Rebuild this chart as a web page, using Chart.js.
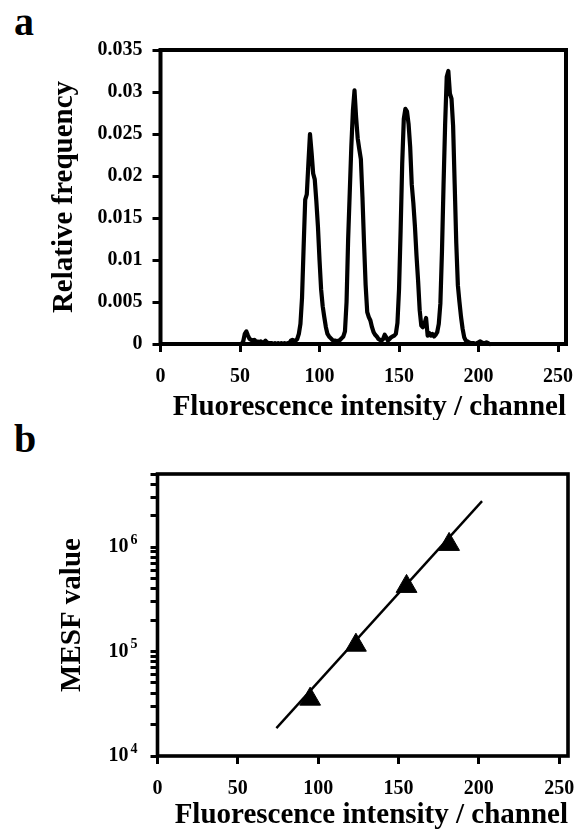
<!DOCTYPE html>
<html>
<head>
<meta charset="utf-8">
<script src="https://cdn.jsdelivr.net/npm/chart.js@4.4.1/dist/chart.umd.min.js"></script>
<style>
html,body{margin:0;padding:0;background:#fff;}
body{width:581px;height:832px;position:relative;overflow:hidden;font-family:"Liberation Serif","Times New Roman",serif;}
.panel{position:absolute;left:14px;font-weight:bold;font-size:40px;line-height:40px;color:#000;}
#wa{position:absolute;left:0;top:0;width:581px;height:420px;}
#wb{position:absolute;left:0;top:420px;width:581px;height:412px;}
</style>
</head>
<body>
<div class="panel" style="top:2px">a</div>
<div class="panel" style="top:419px">b</div>
<div id="wa"><canvas id="ca" width="581" height="420"></canvas></div>
<div id="wb"><canvas id="cb" width="581" height="412"></canvas></div>
<script>
// ---------- Panel a: histogram ----------
const channels = [
  50,51,52,53,54,55,56,57,58,59,
  60,61,62,63,64,65,66,67,68,69,
  70,71,72,73,74,75,76,77,78,79,
  80,81,82,83,84,85,86,87,88,89,
  90,91,92,93,94,95,96,97,98,99,
  100,101,102,103,104,105,106,107,108,109,
  110,111,112,113,114,115,116,117,118,119,
  120,121,122,123,124,125,126,127,128,129,
  130,131,132,133,134,135,136,137,138,139,
  140,141,142,143,144,145,146,147,148,149,
  150,151,152,153,154,155,156,157,158,159,
  160,161,162,163,164,165,166,167,168,169,
  170,171,172,173,174,175,176,177,178,179,
  180,181,182,183,184,185,186,187,188,189,
  190,191,192,193,194,195,196,197,198,199,
  200,201,202,203,204,205,206,207
];
const frequency = [
  0,0,0.0003,0.0012,0.0015,0.0010,0.0006,0.0005,0.0004,0.0005,
  0.0003,0.0003,0.0002,0.0003,0.0002,0.0002,0.0004,0.0002,0.0001,0.0001,
  0.0001,0,0.0001,0,0.0001,0,0.0001,0,0.0001,0,
  0.0001,0.0001,0.0004,0.0005,0.0004,0.0004,0.0006,0.0012,0.0024,0.0055,
  0.0115,0.0172,0.0178,0.0215,0.0250,0.0228,0.0203,0.0196,0.0170,0.0140,
  0.0100,0.0065,0.0045,0.0032,0.0020,0.0012,0.0009,0.0007,0.0005,0.0004,
  0.0004,0.0003,0.0004,0.0005,0.0007,0.0009,0.0015,0.0050,0.0125,0.0180,
  0.0235,0.0278,0.0302,0.0270,0.0245,0.0232,0.0220,0.0175,0.0120,0.0070,
  0.0038,0.0032,0.0028,0.0020,0.0014,0.0011,0.0009,0.0006,0.0005,0.0004,
  0.0006,0.0011,0.0008,0.0004,0.0006,0.0008,0.0009,0.0010,0.0012,0.0025,
  0.0065,0.0135,0.0215,0.0268,0.0280,0.0277,0.0262,0.0235,0.0190,0.0168,
  0.0140,0.0105,0.0075,0.0040,0.0022,0.0020,0.0024,0.0031,0.0010,0.0013,
  0.0010,0.0012,0.0009,0.0011,0.0014,0.0024,0.0048,0.0110,0.0190,0.0262,
  0.0318,0.0325,0.0298,0.0292,0.0260,0.0190,0.0120,0.0070,0.0050,0.0032,
  0.0018,0.0008,0.0004,0.0003,0.0002,0.0001,0.0001,0.0001,0,0.0001,
  0.0002,0.0003,0.0002,0.0001,0.0001,0.0002,0.0001,0
];
const xTicks = [0, 50, 100, 150, 200, 250];
const xTickLabels = ["0", "50", "100", "150", "200", "250"];
const yTicksA = [0, 0.005, 0.01, 0.015, 0.02, 0.025, 0.03, 0.035];
const yTickLabelsA = ["0", "0.005", "0.01", "0.015", "0.02", "0.025", "0.03", "0.035"];

// ---------- Panel b: calibration ----------
const mesfChannel = [95, 123.5, 155, 181.5];
const mesfValue = [35000, 115000, 420000, 1060000];
const fitChannel = [74, 202];
const fitValue = [18500, 2750000];
const yTicksB = [1e4,2e4,3e4,4e4,5e4,6e4,7e4,8e4,9e4,1e5,2e5,3e5,4e5,5e5,6e5,7e5,8e5,9e5,1e6,2e6,3e6,4e6,5e6];
const yMajorB = [1e4, 1e5, 1e6];
const yMajorBase = ["10", "10", "10"];
const yMajorExp = ["4", "5", "6"];

const xTitle = "Fluorescence intensity / channel";
const FONT = "'Liberation Serif', 'Times New Roman', serif";

const framePlugin = {
  id: 'frame',
  afterDatasetsDraw(chart, args, opts) {
    const {ctx, chartArea: a} = chart;
    ctx.save();
    ctx.strokeStyle = '#000';
    ctx.lineWidth = opts.width || 4;
    ctx.strokeRect(a.left, a.top, a.right - a.left, a.bottom - a.top);
    ctx.restore();
  }
};

// draws the exponent of the power-of-ten labels as real superscript text
const exponentPlugin = {
  id: 'exponents',
  afterDraw(chart) {
    const s = chart.scales.y;
    if (!s || s.type !== 'logarithmic') return;
    const ctx = chart.ctx;
    ctx.save();
    ctx.fillStyle = '#000';
    ctx.font = "bold 14px " + FONT;
    ctx.textAlign = 'left';
    ctx.textBaseline = 'middle';
    yMajorB.forEach((v, i) => {
      const py = s.getPixelForValue(v);
      ctx.fillText(yMajorExp[i], chart.chartArea.left - 27, py - 7);
    });
    ctx.restore();
  }
};

function xScale(maxV, titlePad, labelPad) {
  return {
    type: 'linear', min: 0, max: maxV,
    afterBuildTicks: s => { s.ticks = xTicks.map(v => ({value: v})); },
    afterFit: s => { s.height = 76; s.paddingLeft = 0; s.paddingRight = 0; },
    border: {display: false},
    grid: {display: true, drawOnChartArea: false, drawTicks: true, tickLength: 8, tickWidth: 3, tickColor: '#000'},
    ticks: {autoSkip: false, maxRotation: 0, color: '#000', padding: labelPad,
      font: {family: FONT, size: 20, weight: 'bold'},
      callback: v => { const i = xTicks.indexOf(v); return i >= 0 ? xTickLabels[i] : ''; }},
    title: {display: true, text: xTitle, align: 'end', color: '#000',
      font: {family: FONT, size: 29, weight: 'bold', lineHeight: 1},
      padding: {top: 0, bottom: titlePad}}
  };
}

Chart.defaults.animation = false;

new Chart(document.getElementById('ca'), {
  type: 'scatter',
  data: {
    datasets: [{
      data: channels.map((c, i) => ({x: c, y: frequency[i]})),
      showLine: true, borderColor: '#000', borderWidth: 4.2, pointRadius: 0,
      tension: 0, borderJoinStyle: 'round', borderCapStyle: 'round', clip: false
    }]
  },
  options: {
    responsive: false, animation: false,
    layout: {padding: {left: 0, top: 50, right: 15, bottom: 0}},
    plugins: {legend: {display: false}, tooltip: {enabled: false}, frame: {width: 4}},
    scales: {
      x: xScale(255, -2, 13),
      y: {
        type: 'linear', min: 0, max: 0.035,
        afterBuildTicks: s => { s.ticks = yTicksA.map(v => ({value: v})); },
        afterFit: s => { s.width = 160.5; s.paddingTop = 0; s.paddingBottom = 0; },
        border: {display: false},
        grid: {display: true, drawOnChartArea: false, drawTicks: true, tickLength: 8, tickWidth: 3, tickColor: '#000'},
        ticks: {autoSkip: false, color: '#000', padding: 10,
          font: {family: FONT, size: 20, weight: 'bold'},
          callback: v => { const i = yTicksA.findIndex(t => Math.abs(t - v) < 1e-9); return i >= 0 ? yTickLabelsA[i] : ''; }},
        title: {display: true, text: 'Relative frequency', color: '#000',
          font: {family: FONT, size: 29, weight: 'bold', lineHeight: 1},
          padding: {top: 50, bottom: 0}}
      }
    }
  },
  plugins: [framePlugin]
});

new Chart(document.getElementById('cb'), {
  type: 'scatter',
  data: {
    datasets: [
      {
        data: fitChannel.map((c, i) => ({x: c, y: fitValue[i]})),
        showLine: true, borderColor: '#000', borderWidth: 2.4, pointRadius: 0, tension: 0
      },
      {
        data: mesfChannel.map((c, i) => ({x: c, y: mesfValue[i]})),
        showLine: false, pointStyle: 'triangle', pointRadius: 12,
        backgroundColor: '#000', borderColor: '#000', borderWidth: 1
      }
    ]
  },
  options: {
    responsive: false, animation: false,
    layout: {padding: {left: 0, top: 54, right: 10, bottom: 0}},
    plugins: {legend: {display: false}, tooltip: {enabled: false}, frame: {width: 3.6}},
    scales: {
      x: xScale(255.5, 2, 13),
      y: {
        type: 'logarithmic', min: 1e4, max: 5e6,
        afterBuildTicks: s => { s.ticks = yTicksB.map(v => ({value: v, major: yMajorB.includes(v)})); },
        afterFit: s => { s.width = 157.5; s.paddingTop = 0; s.paddingBottom = 0; },
        border: {display: false},
        grid: {display: true, drawOnChartArea: false, drawTicks: true, tickLength: 7, tickWidth: 3, tickColor: '#000'},
        ticks: {autoSkip: false, color: '#000', padding: 22,
          font: {family: FONT, size: 20, weight: 'bold'},
          callback: v => { const i = yMajorB.indexOf(v); return i >= 0 ? yMajorBase[i] : ''; }},
        title: {display: true, text: 'MESF value', color: '#000',
          font: {family: FONT, size: 29, weight: 'bold', lineHeight: 1},
          padding: {top: 58, bottom: 0}}
      }
    }
  },
  plugins: [framePlugin, exponentPlugin]
});
</script>
</body>
</html>
